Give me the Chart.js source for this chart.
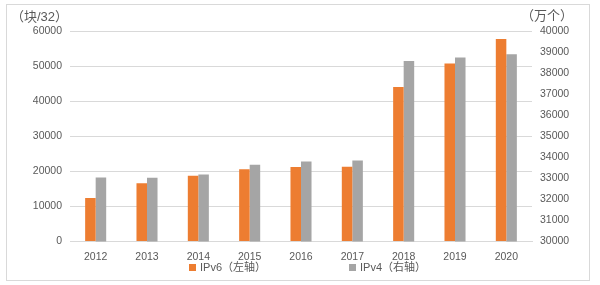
<!DOCTYPE html>
<html><head><meta charset="utf-8">
<script src="https://cdn.jsdelivr.net/npm/chart.js@4/dist/chart.umd.min.js"></script>
<style>
html,body{margin:0;padding:0;background:#fff;}
#wrap{position:relative;width:600px;height:285px;}
#frame{position:absolute;left:6px;top:4px;width:584px;height:277px;border:1px solid #d9d9d9;box-sizing:border-box;pointer-events:none;}
.unit{position:absolute;font:13px "Liberation Sans","Noto Sans CJK SC",sans-serif;color:#595959;white-space:nowrap;line-height:16px;}
.leg{position:absolute;top:260px;font:11px "Liberation Sans","Noto Sans CJK SC",sans-serif;color:#595959;white-space:nowrap;line-height:14px;}
.leg i{display:inline-block;width:7px;height:7px;margin-right:4px;vertical-align:0px;}
</style></head>
<body>
<div id="wrap">
<canvas id="c" width="600" height="285"></canvas>
<div id="frame"></div>
<div class="unit" style="left:11px;top:9px;">（块/32）</div>
<div class="unit" style="left:521px;top:8px;">（万个）</div>
<div id="legend"></div>
</div>
<script>
const categories = ["2012","2013","2014","2015","2016","2017","2018","2019","2020"];
const ipv6Label = "IPv6（左轴）";
const ipv4Label = "IPv4（右轴）";
const ipv6Values = [12400, 16600, 18700, 20600, 21200, 21300, 44000, 50700, 57700];
const ipv4Values = [33040, 33020, 33180, 33640, 33800, 33850, 38580, 38740, 38890];
const leftTicks = {min:0, max:60000, step:10000};
const rightTicks = {min:30000, max:40000, step:1000};
const colors = ['#ED7D31', '#A5A5A5'];

const FONT = {family:'"Liberation Sans","Noto Sans CJK SC",sans-serif', size:10.5};
const chart = new Chart(document.getElementById('c'), {
  type:'bar',
  data:{
    labels:categories,
    datasets:[
      {label:ipv6Label, data:ipv6Values, backgroundColor:colors[0], yAxisID:'y', categoryPercentage:0.41, barPercentage:1.0},
      {label:ipv4Label, data:ipv4Values, backgroundColor:colors[1], yAxisID:'y1', categoryPercentage:0.41, barPercentage:1.0}
    ]
  },
  options:{
    responsive:false, animation:false,
    layout:{padding:{top:31,left:0,right:0,bottom:13}},
    plugins:{ tooltip:{enabled:false}, legend:{display:false} },
    scales:{
      x:{grid:{display:false, drawTicks:false}, border:{display:true,color:'#d9d9d9'},
         ticks:{color:'#595959', font:FONT, padding:9}},
      y:{position:'left', min:leftTicks.min, max:leftTicks.max,
         ticks:{stepSize:leftTicks.step, color:'#595959', font:FONT, padding:8, callback:v=>String(v)},
         grid:{color:'#d9d9d9', drawTicks:false}, border:{display:false},
         afterFit(s){s.width=70;}},
      y1:{position:'right', min:rightTicks.min, max:rightTicks.max,
         ticks:{stepSize:rightTicks.step, color:'#595959', font:FONT, padding:8, callback:v=>String(v)},
         grid:{display:false, drawTicks:false}, border:{display:false},
         afterFit(s){s.width=68;}}
    }
  }
});
// legend built from the chart's datasets
const legX = [189, 349];
const legend = document.getElementById('legend');
chart.data.datasets.forEach((ds, i) => {
  const d = document.createElement('div');
  d.className = 'leg';
  d.style.left = legX[i] + 'px';
  const sw = document.createElement('i');
  sw.style.background = ds.backgroundColor;
  d.appendChild(sw);
  d.appendChild(document.createTextNode(ds.label));
  legend.appendChild(d);
});
</script>
</body></html>
